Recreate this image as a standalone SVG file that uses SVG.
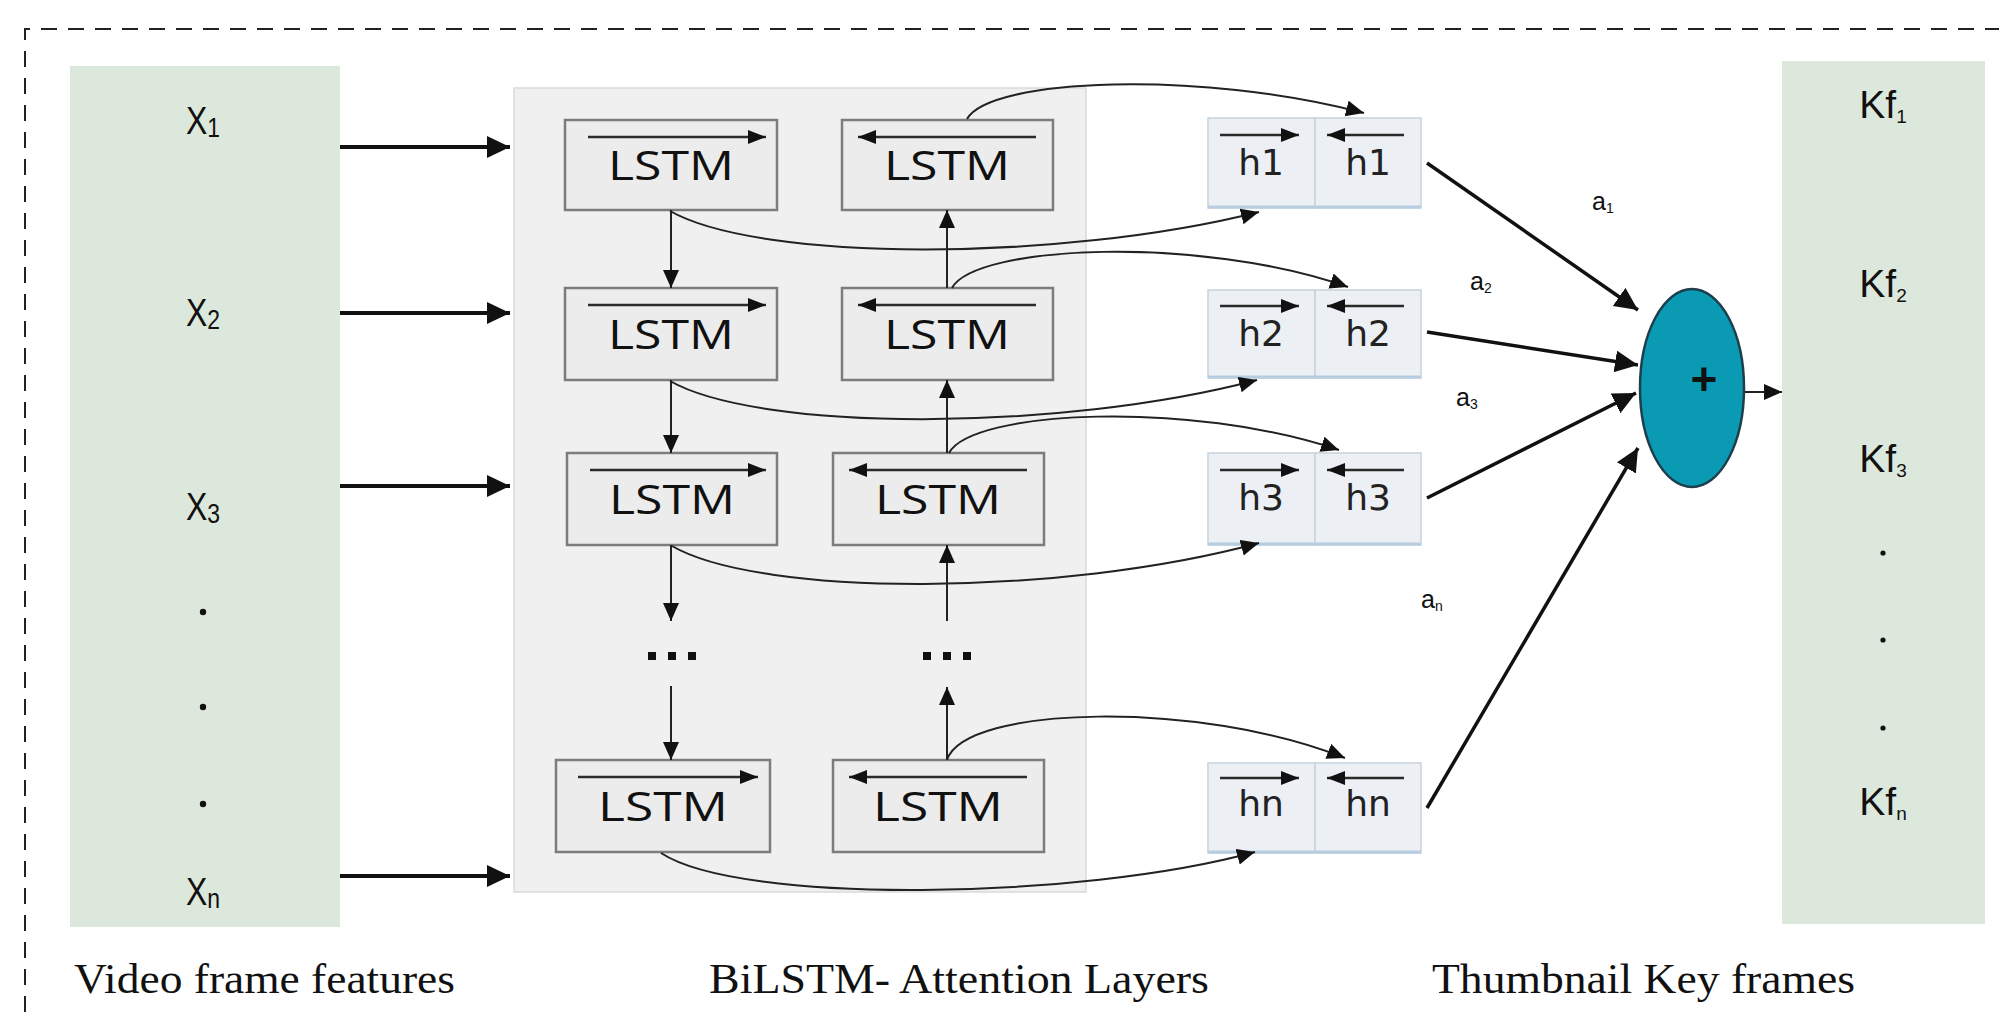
<svg xmlns="http://www.w3.org/2000/svg" width="1999" height="1012" viewBox="0 0 1999 1012">
  <defs>
    <style>
      .frame { fill: none; stroke: #222; stroke-width: 2; stroke-dasharray: 16 11; }
      .band { fill: #dde8dc; }
      .panel { fill: #f0f0f0; stroke: #dadada; stroke-width: 1.5; }
      .cell { fill: #ececec; stroke: #7c7c7c; stroke-width: 2.5; }
      .hcell { fill: #eceff3; stroke: #c8d2dc; stroke-width: 1.5; }
      .hbase { stroke: #b6cde2; stroke-width: 3; }
      .lbl { font-family: "Liberation Sans", Arial, sans-serif; fill: #111; }
      .lstm { font-family: "Open Sans", "Liberation Sans", sans-serif; font-size: 40px; fill: #111; text-anchor: middle; }
      .htxt { font-family: "DejaVu Sans", Verdana, sans-serif; font-size: 36px; fill: #222; text-anchor: middle; }
      .cap { font-family: "Liberation Serif", "Times New Roman", serif; font-size: 42px; fill: #111; }
      .thick { fill: none; stroke: #111; stroke-width: 4; marker-end: url(#headLg); }
      .attn { fill: none; stroke: #111; stroke-width: 3.5; marker-end: url(#headLg); }
      .flow { fill: none; stroke: #222; stroke-width: 2; marker-end: url(#headMd); }
      .dir { fill: none; stroke: #2a2a2a; stroke-width: 2.5; marker-end: url(#headSm); }
    </style>
    <marker id="headLg" markerUnits="userSpaceOnUse" markerWidth="26" markerHeight="24" refX="23" refY="11" orient="auto">
      <path d="M0,0 L23,11 L0,22 z" fill="#111"/>
    </marker>
    <marker id="headMd" markerUnits="userSpaceOnUse" markerWidth="20" markerHeight="18" refX="18" refY="8" orient="auto">
      <path d="M0,0 L18,8 L0,16 z" fill="#111"/>
    </marker>
    <marker id="headSm" markerUnits="userSpaceOnUse" markerWidth="20" markerHeight="16" refX="18" refY="7" orient="auto">
      <path d="M0,0 L18,7 L0,14 z" fill="#111"/>
    </marker>
  </defs>

  <rect width="1999" height="1012" fill="#ffffff"/>

  <!-- dashed outer frame -->
  <path class="frame" d="M25,1012 L25,29 L1999,29"/>

  <!-- input features column -->
  <g id="input-features">
    <rect class="band" x="70" y="66" width="270" height="861"/>
    <g transform="translate(203,0) scale(0.82,1) translate(-203,0)">
      <text class="lbl" x="203" y="134" font-size="39" text-anchor="middle">X<tspan font-size="28" dy="3">1</tspan></text>
      <text class="lbl" x="203" y="326" font-size="39" text-anchor="middle">X<tspan font-size="28" dy="3">2</tspan></text>
      <text class="lbl" x="203" y="520" font-size="39" text-anchor="middle">X<tspan font-size="28" dy="3">3</tspan></text>
      <text class="lbl" x="203" y="905" font-size="39" text-anchor="middle">X<tspan font-size="28" dy="3">n</tspan></text>
    </g>
    <circle cx="203" cy="612" r="3.2" fill="#111"/>
    <circle cx="203" cy="707" r="3.2" fill="#111"/>
    <circle cx="203" cy="804" r="3.2" fill="#111"/>
  </g>

  <!-- BiLSTM panel -->
  <g id="bilstm-panel">
    <rect class="panel" x="514" y="88" width="572" height="804"/>
  </g>

  <!-- forward LSTM cells -->
  <g id="lstm-f1">
    <rect class="cell" x="565" y="120" width="212" height="90"/>
    <path class="dir" d="M588,137 L766,137"/>
    <text class="lstm" x="671" y="180" textLength="126" lengthAdjust="spacingAndGlyphs">LSTM</text>
  </g>
  <g id="lstm-f2">
    <rect class="cell" x="565" y="288" width="212" height="92"/>
    <path class="dir" d="M588,305 L766,305"/>
    <text class="lstm" x="671" y="349" textLength="126" lengthAdjust="spacingAndGlyphs">LSTM</text>
  </g>
  <g id="lstm-f3">
    <rect class="cell" x="567" y="453" width="210" height="92"/>
    <path class="dir" d="M590,470 L766,470"/>
    <text class="lstm" x="672" y="514" textLength="126" lengthAdjust="spacingAndGlyphs">LSTM</text>
  </g>
  <g id="lstm-fn">
    <rect class="cell" x="556" y="760" width="214" height="92"/>
    <path class="dir" d="M578,777 L758,777"/>
    <text class="lstm" x="663" y="821" textLength="130" lengthAdjust="spacingAndGlyphs">LSTM</text>
  </g>

  <!-- backward LSTM cells -->
  <g id="lstm-b1">
    <rect class="cell" x="842" y="120" width="211" height="90"/>
    <path class="dir" d="M1036,137 L858,137"/>
    <text class="lstm" x="947" y="180" textLength="126" lengthAdjust="spacingAndGlyphs">LSTM</text>
  </g>
  <g id="lstm-b2">
    <rect class="cell" x="842" y="288" width="211" height="92"/>
    <path class="dir" d="M1036,305 L858,305"/>
    <text class="lstm" x="947" y="349" textLength="126" lengthAdjust="spacingAndGlyphs">LSTM</text>
  </g>
  <g id="lstm-b3">
    <rect class="cell" x="833" y="453" width="211" height="92"/>
    <path class="dir" d="M1027,470 L849,470"/>
    <text class="lstm" x="938" y="514" textLength="126" lengthAdjust="spacingAndGlyphs">LSTM</text>
  </g>
  <g id="lstm-bn">
    <rect class="cell" x="833" y="760" width="211" height="92"/>
    <path class="dir" d="M1027,777 L849,777"/>
    <text class="lstm" x="938" y="821" textLength="130" lengthAdjust="spacingAndGlyphs">LSTM</text>
  </g>

  <!-- ellipsis between layers -->
  <g id="gap-forward">
    <rect x="648" y="652" width="8" height="8" fill="#111"/>
    <rect x="668" y="652" width="8" height="8" fill="#111"/>
    <rect x="688" y="652" width="8" height="8" fill="#111"/>
  </g>
  <g id="gap-backward">
    <rect x="923" y="652" width="8" height="8" fill="#111"/>
    <rect x="943" y="652" width="8" height="8" fill="#111"/>
    <rect x="963" y="652" width="8" height="8" fill="#111"/>
  </g>

  <!-- hidden state pairs -->
  <g id="h1">
    <rect class="hcell" x="1208" y="118" width="107" height="90"/>
    <rect class="hcell" x="1315" y="118" width="106" height="90"/>
    <line class="hbase" x1="1208" y1="207" x2="1421" y2="207"/>
    <path class="dir" d="M1220,135 L1299,135"/>
    <path class="dir" d="M1404,135 L1327,135"/>
    <text class="htxt" x="1261" y="175">h1</text>
    <text class="htxt" x="1368" y="175">h1</text>
  </g>
  <g id="h2">
    <rect class="hcell" x="1208" y="290" width="107" height="88"/>
    <rect class="hcell" x="1315" y="290" width="106" height="88"/>
    <line class="hbase" x1="1208" y1="377" x2="1421" y2="377"/>
    <path class="dir" d="M1220,306 L1299,306"/>
    <path class="dir" d="M1404,306 L1327,306"/>
    <text class="htxt" x="1261" y="346">h2</text>
    <text class="htxt" x="1368" y="346">h2</text>
  </g>
  <g id="h3">
    <rect class="hcell" x="1208" y="453" width="107" height="92"/>
    <rect class="hcell" x="1315" y="453" width="106" height="92"/>
    <line class="hbase" x1="1208" y1="544" x2="1421" y2="544"/>
    <path class="dir" d="M1220,470 L1299,470"/>
    <path class="dir" d="M1404,470 L1327,470"/>
    <text class="htxt" x="1261" y="510">h3</text>
    <text class="htxt" x="1368" y="510">h3</text>
  </g>
  <g id="hn">
    <rect class="hcell" x="1208" y="763" width="107" height="90"/>
    <rect class="hcell" x="1315" y="763" width="106" height="90"/>
    <line class="hbase" x1="1208" y1="852" x2="1421" y2="852"/>
    <path class="dir" d="M1220,778 L1299,778"/>
    <path class="dir" d="M1404,778 L1327,778"/>
    <text class="htxt" x="1261" y="816">hn</text>
    <text class="htxt" x="1368" y="816">hn</text>
  </g>

  <!-- attention sum node -->
  <g id="sum">
    <ellipse cx="1692" cy="388" rx="52" ry="99" fill="#0b9ab4" stroke="#1d3f4c" stroke-width="2.5"/>
    <text x="1704" y="379" font-family="Liberation Sans, Arial, sans-serif" font-size="46" font-weight="bold" fill="#111" text-anchor="middle" dominant-baseline="central">+</text>
  </g>

  <!-- key frame column -->
  <g id="key-frames">
    <rect class="band" x="1782" y="61" width="203" height="863"/>
    <text class="lbl" x="1883" y="118" font-size="39" text-anchor="middle">Kf<tspan font-size="19" dy="5">1</tspan></text>
    <text class="lbl" x="1883" y="297" font-size="39" text-anchor="middle">Kf<tspan font-size="19" dy="5">2</tspan></text>
    <text class="lbl" x="1883" y="472" font-size="39" text-anchor="middle">Kf<tspan font-size="19" dy="5">3</tspan></text>
    <circle cx="1883" cy="553" r="2.6" fill="#111"/>
    <circle cx="1883" cy="640" r="2.6" fill="#111"/>
    <circle cx="1883" cy="728" r="2.6" fill="#111"/>
    <text class="lbl" x="1883" y="815" font-size="39" text-anchor="middle">Kf<tspan font-size="19" dy="5">n</tspan></text>
  </g>

  <!-- connectors -->
  <g id="connectors">
    <!-- inputs into the BiLSTM -->
    <path class="thick" d="M340,147 L510,147"/>
    <path class="thick" d="M340,313 L510,313"/>
    <path class="thick" d="M340,486 L510,486"/>
    <path class="thick" d="M340,876 L510,876"/>

    <!-- forward chain -->
    <path class="flow" d="M671,210 L671,288"/>
    <path class="flow" d="M671,380 L671,453"/>
    <path class="flow" d="M671,545 L671,621"/>
    <path class="flow" d="M671,686 L671,760"/>

    <!-- backward chain -->
    <path class="flow" d="M947,288 L947,210"/>
    <path class="flow" d="M947,453 L947,380"/>
    <path class="flow" d="M947,621 L947,545"/>
    <path class="flow" d="M947,760 L947,687"/>

    <!-- backward states to hidden pairs -->
    <path class="flow" d="M967,119 C990,78 1200,70 1364,113"/>
    <path class="flow" d="M952,288 C975,245 1200,235 1348,287"/>
    <path class="flow" d="M949,453 C972,410 1190,400 1339,450"/>
    <path class="flow" d="M947,760 C965,705 1200,700 1345,758"/>

    <!-- forward states to hidden pairs -->
    <path class="flow" d="M670,211 C760,262 1060,262 1259,212"/>
    <path class="flow" d="M670,381 C760,432 1060,432 1257,380"/>
    <path class="flow" d="M672,546 C760,597 1060,597 1259,543"/>
    <path class="flow" d="M661,853 C740,905 1080,900 1255,852"/>

    <!-- attention weights -->
    <path class="attn" d="M1427,163 L1638,310"/>
    <path class="attn" d="M1427,332 L1638,365"/>
    <path class="attn" d="M1427,498 L1636,393"/>
    <path class="attn" d="M1427,808 L1638,448"/>

    <!-- output -->
    <path class="flow" d="M1745,392 L1782,392"/>
  </g>

  <!-- weight labels -->
  <g id="weights" class="lbl" font-size="25">
    <text x="1592" y="210">a<tspan font-size="14" dy="3">1</tspan></text>
    <text x="1470" y="290">a<tspan font-size="14" dy="3">2</tspan></text>
    <text x="1456" y="406">a<tspan font-size="14" dy="3">3</tspan></text>
    <text x="1421" y="608">a<tspan font-size="14" dy="3">n</tspan></text>
  </g>

  <!-- captions -->
  <g id="captions">
    <text class="cap" x="74" y="993" textLength="381" lengthAdjust="spacingAndGlyphs">Video frame features</text>
    <text class="cap" x="709" y="993" textLength="500" lengthAdjust="spacingAndGlyphs">BiLSTM- Attention Layers</text>
    <text class="cap" x="1432" y="993" textLength="423" lengthAdjust="spacingAndGlyphs">Thumbnail Key frames</text>
  </g>
</svg>
